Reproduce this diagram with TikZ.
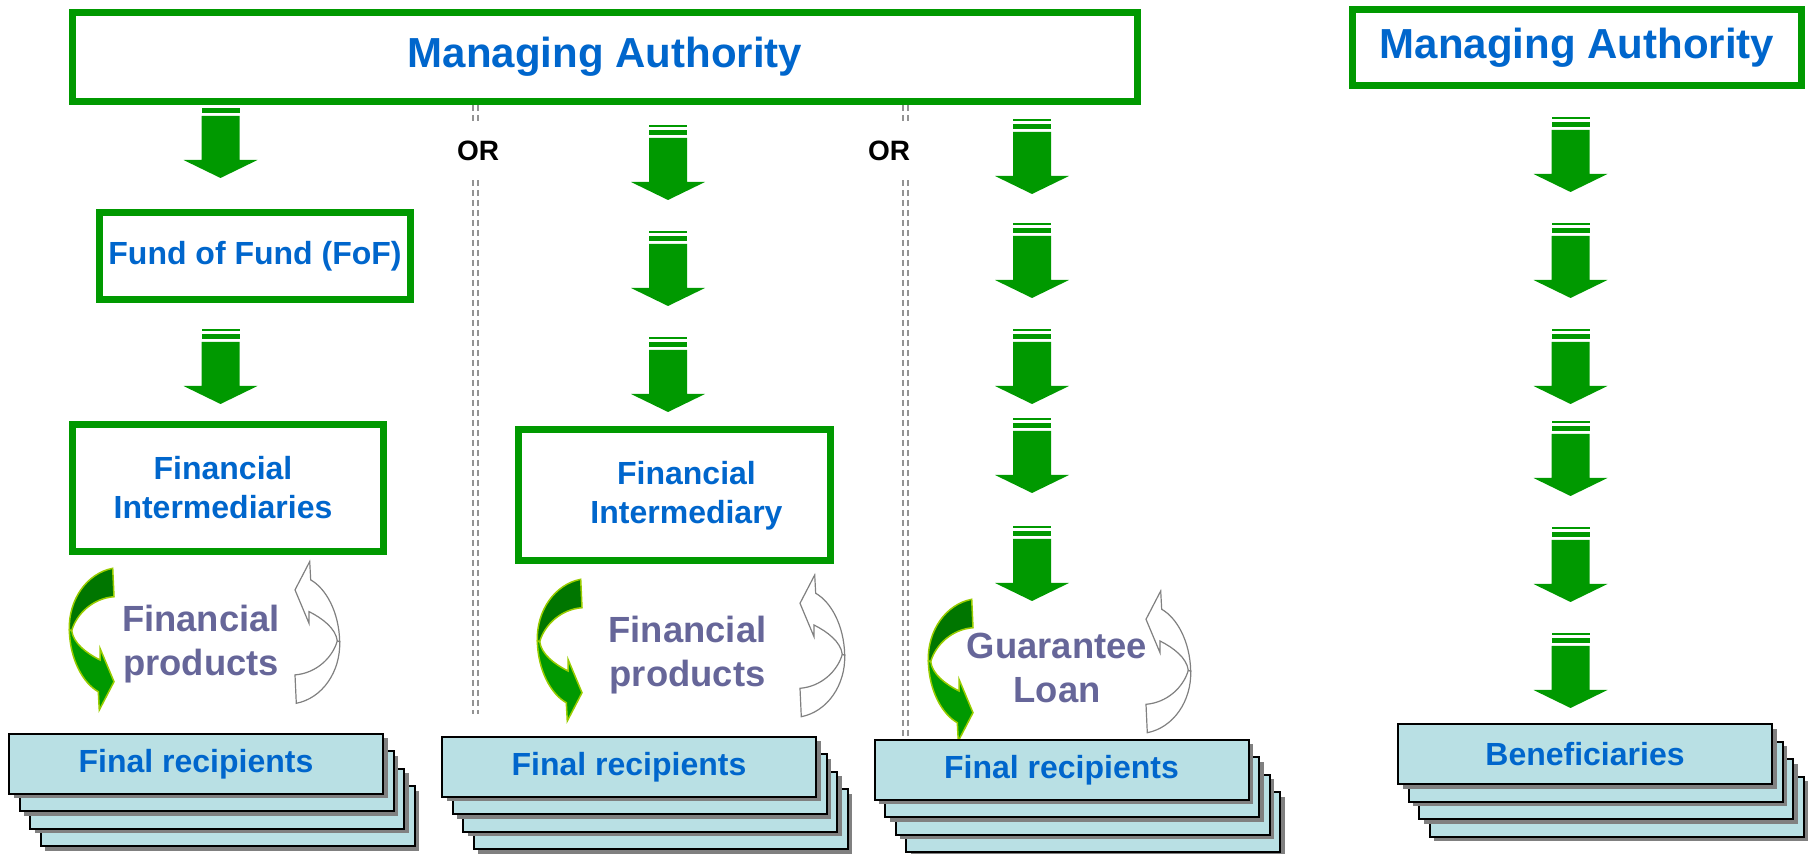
\documentclass[tikz,border=0pt]{standalone}
\usepackage{fontspec}
\setmainfont{Liberation Sans}
\usetikzlibrary{shadows}
\definecolor{boxgreen}{RGB}{0,153,0}
\definecolor{darkturn}{RGB}{0,118,0}
\definecolor{limeedge}{RGB}{153,204,0}
\definecolor{titleblue}{RGB}{0,102,204}
\definecolor{slate}{RGB}{102,102,153}
\definecolor{recipfill}{RGB}{185,224,228}
\def\FrameColor{boxgreen}
\def\StackColor{recipfill}

\tikzset{
  % block arrow with two bars on top
  pics/downarrow/.style={code={
    \fill[\FrameColor] (-19,0) rectangle (19,2.5);
    \fill[\FrameColor] (-19,5) rectangle (19,10);
    \fill[\FrameColor] (-19,13) -- (-19,57) -- (-37,57) -- (0,75) -- (37,57) -- (19,57) -- (19,13) -- cycle;
  }},
  % curved ribbon arrow, back part #1 and front part #2
  pics/turnarrow/.style 2 args={code={
    \path[#1] (21.7,-70.7) .. controls (-4.3,-65.7) and (-22.7,-39) .. (-21.7,-9)
      -- (-19.3,-8.3) .. controls (-14.3,-25.7) and (2.3,-40.7) .. (23,-42.3) -- cycle;
    \path[#2] (-21.7,-9) .. controls (-21,21) and (-7.7,44.3) .. (7.3,52.7)
      -- (8.3,71) -- (23,42.7) -- (9,9.3) -- (9,21)
      .. controls (-4.3,14.3) and (-17.7,4.3) .. (-19.3,-8.3) -- cycle;
  }}
}

\begin{document}
\begin{tikzpicture} [
    x=0.5pt, y=-0.5pt,
    GB/.style = {draw=\FrameColor, line width=3.5pt, fill=white, text=titleblue, align=center, inner sep=0pt,
                 font=\fontsize{16}{19}\selectfont\bfseries},
    boxtext/.style = {text=titleblue, align=center, inner sep=0pt, font=\fontsize{16}{19.5}\selectfont\bfseries},
    recip/.style = {draw=black, line width=1pt, fill=\StackColor, minimum width=187pt, minimum height=30pt,
                    inner sep=0pt, text=titleblue, font=\fontsize{16}{19}\selectfont\bfseries,
                    drop shadow={shadow xshift=2.25pt, shadow yshift=-2.25pt, fill=black!50, opacity=1}},
    prod/.style = {text=slate, align=center, font=\fontsize{18.2}{22}\selectfont\bfseries},
    ortext/.style = {font=\fontsize{14}{17}\selectfont\bfseries, minimum height=29pt, inner sep=0pt},
    orline/.style = {draw=gray!85, double=white, double distance=1.75pt, line width=0.7pt, dash pattern=on 3pt off 2pt},
    greenback/.style = {fill=darkturn, draw=limeedge, line width=0.75pt},
    greenfront/.style = {fill=boxgreen, draw=limeedge, line width=0.75pt},
    grayside/.style = {fill=white, draw=gray, line width=0.6pt}
    ]
  \useasboundingbox (0,0) rectangle (1812,854);

  %%% MANAGING AUTHORITY (LEFT) %%%
  \node[GB, minimum width=532.5pt, minimum height=44.5pt, font=\fontsize{21}{25}\selectfont\bfseries] (ma) at (605,57) {Managing Authority};

  %%% OR separators %%%
  \node[ortext] (or1) at (478,151) {OR};
  \node[ortext] (or2) at (889,151) {OR};
  \coordinate (s1end) at (475.5,714);
  \coordinate (s2end) at (905.5,740);
  \draw[orline] (ma.south -| s1end) -- (or1.north -| s1end);
  \draw[orline] (or1.south -| s1end) -- (s1end);
  \draw[orline] (ma.south -| s2end) -- (or2.north -| s2end);
  \draw[orline] (or2.south -| s2end) -- (s2end);

  %%% FUND OF FUND %%%
  \pic at (220.5,103) {downarrow};
  \node[GB, minimum width=155.5pt, minimum height=43.5pt] (fof) at (255,256) {Fund of Fund (FoF)};
  \pic at (220.5,329) {downarrow};
  \node[GB, minimum width=155.5pt, minimum height=63.5pt] (fi1) at (228,488) {};
    % text labels
    \node[boxtext] (fi1text) at ([xshift=-2.5pt]fi1.center) {Financial\\Intermediaries};
    % products loop
    \pic at (91,639) {turnarrow={greenback}{greenfront}};
    \pic[rotate=180] at (318,632.6) {turnarrow={grayside}{grayside}};
    \node[prod] (prod1) at (201,644) {Financial\\products};

  %%% FINANCIAL INTERMEDIARY %%%
  \pic at (668,125) {downarrow};
  \pic at (668,231) {downarrow};
  \pic at (668,337) {downarrow};
  \node[GB, minimum width=156pt, minimum height=65.5pt] (fi2) at (674.5,495) {};
    % text labels
    \node[boxtext] (fi2text) at ([xshift=6pt, yshift=-0.5pt]fi2.center) {Financial\\Intermediary};
    % products loop
    \pic at (559,650) {turnarrow={greenback}{greenfront}};
    \pic[rotate=180] at (823,646) {turnarrow={grayside}{grayside}};
    \node[prod] (prod2) at (687.5,655) {Financial\\products};

  %%% GUARANTEE %%%
  \pic at (1032,119) {downarrow};
  \pic at (1032,223) {downarrow};
  \pic at (1032,329) {downarrow};
  \pic at (1032,418) {downarrow};
  \pic at (1032,526) {downarrow};
    % products loop
    \pic at (950,670) {turnarrow={greenback}{greenfront}};
    \pic[rotate=180] at (1169,662) {turnarrow={grayside}{grayside}};
    \node[prod] (prod3) at (1057,668) {Guarantee\\Loan};

  %%% MANAGING AUTHORITY (RIGHT) %%%
  \node[GB, minimum width=224.75pt, minimum height=38pt, font=\fontsize{21}{25}\selectfont\bfseries] (ma2) at (1577,47.5) {Managing Authority};
  \pic at (1570.5,117) {downarrow};
  \pic at (1570.5,223) {downarrow};
  \pic at (1570.5,329) {downarrow};
  \pic at (1570.5,421) {downarrow};
  \pic at (1570.5,527) {downarrow};
  \pic at (1570.5,633) {downarrow};

  %%% FINAL RECIPIENTS %%%
  \node[recip] (fr1-3) at (227.5,816.5) {};
  \node[recip] (fr1-2) at (217,799) {};
  \node[recip] (fr1-1) at (206.5,781.5) {};
  \node[recip] (fr1) at (196,764) {Final recipients};

  \node[recip] (fr2-3) at (660.5,819.5) {};
  \node[recip] (fr2-2) at (650,802) {};
  \node[recip] (fr2-1) at (639.5,784.5) {};
  \node[recip] (fr2) at (629,767) {Final recipients};

  \node[recip] (fr3-3) at (1093,822.5) {};
  \node[recip] (fr3-2) at (1082.5,805) {};
  \node[recip] (fr3-1) at (1072,787.5) {};
  \node[recip] (fr3) at (1061.5,770) {Final recipients};

  %%% BENEFICIARIES %%%
  \node[recip] (ben-3) at (1616.5,807) {};
  \node[recip] (ben-2) at (1606,789.5) {};
  \node[recip] (ben-1) at (1595.5,772) {};
  \node[recip] (ben) at (1585,754.5) {Beneficiaries};

\end{tikzpicture}
\end{document}
